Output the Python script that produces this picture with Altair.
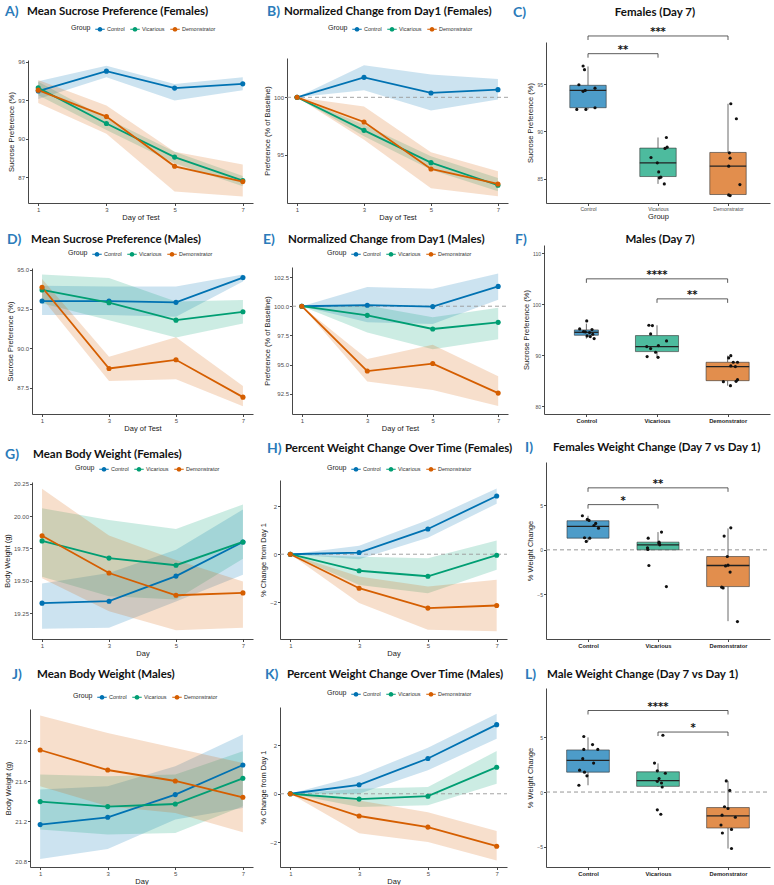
import altair as alt
import pandas as pd

GROUPS = ["Control", "Vicarious", "Demonstrator"]
LINE_COLORS = ["#0072B2", "#009E73", "#D55E00"]
BOX_COLORS = ["#4D9CC9", "#4DBB9E", "#E28E4D"]
DAYS = [1, 3, 5, 7]

# ---------------- A: Mean sucrose preference (females) ----------------
A_ctrl = [93.73, 95.28, 93.96, 94.29]
A_ctrl_lo = [93.10, 94.80, 93.00, 93.80]
A_ctrl_hi = [94.50, 95.70, 94.27, 94.80]
A_vic = [93.98, 91.20, 88.58, 86.75]
A_vic_lo = [93.40, 90.70, 88.10, 86.30]
A_vic_hi = [94.45, 91.60, 89.00, 87.10]
A_dem = [93.80, 91.74, 87.86, 86.67]
A_dem_lo = [92.80, 90.40, 85.90, 85.50]
A_dem_hi = [94.60, 92.60, 89.00, 88.00]

# ---------------- B: Normalized change (females) ----------------
B_ctrl = [100.0, 101.74, 100.38, 100.67]
B_ctrl_lo = [100.0, 100.61, 98.84, 99.80]
B_ctrl_hi = [100.0, 102.79, 101.98, 101.60]
B_vic = [100.0, 97.12, 94.30, 92.33]
B_vic_lo = [100.0, 96.60, 93.69, 91.80]
B_vic_hi = [100.0, 97.60, 94.85, 92.97]
B_dem = [100.0, 97.85, 93.75, 92.44]
B_dem_lo = [100.0, 96.30, 92.06, 91.37]
B_dem_hi = [100.0, 99.20, 95.20, 93.55]

# ---------------- C: Females day 7 box ----------------
C_q1 = [92.52, 85.21, 83.30]
C_med = [94.36, 86.67, 86.31]
C_q3 = [94.90, 88.23, 87.77]
C_lo = [92.34, 84.43, 83.19]
C_hi = [96.90, 89.36, 92.94]
C_w = [0.52, 0.52, 0.52]
C_pts = [
    [96.95, 96.56, 94.96, 94.26, 94.36, 94.60, 92.34, 92.34, 92.52],
    [89.36, 88.33, 88.20, 87.23, 86.67, 85.70, 85.14, 85.07, 84.43],
    [92.94, 91.35, 87.73, 87.16, 86.31, 84.36, 83.26, 83.19],
]
C_jit = [
    [-0.07, -0.05, -0.13, -0.07, -0.04, 0.10, -0.16, -0.03, 0.10],
    [0.12, 0.13, 0.10, -0.10, -0.01, 0.01, 0.04, 0.02, 0.09],
    [0.04, 0.12, 0.02, 0.03, 0.01, 0.17, 0.01, 0.03],
]
C_br = [(1, 2, 98.26, "**"), (1, 3, 100.14, "***")]

# ---------------- D: Mean sucrose preference (males) ----------------
D_ctrl = [93.00, 93.00, 92.92, 94.49]
D_ctrl_lo = [92.11, 92.11, 92.00, 94.25]
D_ctrl_hi = [93.97, 93.93, 93.93, 94.68]
D_vic = [93.71, 92.90, 91.79, 92.32]
D_vic_lo = [92.86, 91.79, 90.68, 91.57]
D_vic_hi = [94.68, 94.46, 92.97, 93.07]
D_dem = [93.88, 88.72, 89.27, 86.90]
D_dem_lo = [93.18, 87.93, 88.03, 86.32]
D_dem_hi = [94.40, 89.47, 90.70, 87.60]

# ---------------- E: Normalized change (males) ----------------
E_ctrl = [100.0, 100.09, 99.97, 101.70]
E_ctrl_lo = [100.0, 98.62, 98.48, 100.55]
E_ctrl_hi = [100.0, 101.64, 101.49, 102.80]
E_vic = [100.0, 99.22, 98.05, 98.62]
E_vic_lo = [100.0, 97.76, 96.32, 97.18]
E_vic_hi = [100.0, 100.06, 99.05, 99.86]
E_dem = [100.0, 94.45, 95.09, 92.56]
E_dem_lo = [100.0, 93.56, 92.82, 91.45]
E_dem_hi = [100.0, 95.49, 96.70, 94.00]

# ---------------- F: Males day 7 box ----------------
F_q1 = [93.92, 90.72, 85.03]
F_med = [94.50, 91.70, 87.78]
F_q3 = [94.97, 93.86, 88.63]
F_lo = [93.27, 89.60, 84.05]
F_hi = [96.20, 95.88, 89.93]
F_w = [0.34, 0.61, 0.61]
F_pts = [
    [96.73, 95.16, 95.03, 94.64, 94.58, 94.44, 94.12, 93.66, 93.27, 93.79],
    [95.88, 95.82, 94.18, 92.81, 91.70, 91.31, 91.90, 90.59, 89.74, 89.60],
    [89.93, 89.48, 88.63, 88.63, 87.91, 87.78, 84.84, 85.23, 84.90, 84.05],
]
F_jit = [
    [0.005, -0.095, 0.08, -0.04, -0.015, 0.045, 0.09, 0.055, 0.11, 0.01],
    [-0.115, -0.065, -0.09, 0.135, -0.145, -0.09, 0.02, -0.02, -0.14, 0.015],
    [0.045, 0.015, 0.08, 0.14, 0.045, 0.11, -0.06, 0.14, 0.12, 0.04],
]
F_br = [(1, 3, 104.97, "****"), (2, 3, 101.05, "**")]

# ---------------- G: Mean body weight (females) ----------------
G_ctrl = [19.327, 19.342, 19.536, 19.800]
G_ctrl_lo = [19.130, 19.137, 19.340, 19.547]
G_ctrl_hi = [19.478, 19.560, 19.740, 20.050]
G_vic = [19.808, 19.675, 19.620, 19.800]
G_vic_lo = [19.530, 19.380, 19.355, 19.670]
G_vic_hi = [20.060, 19.970, 19.900, 20.090]
G_dem = [19.848, 19.560, 19.388, 19.406]
G_dem_lo = [19.520, 19.265, 19.117, 19.137]
G_dem_hi = [20.210, 19.850, 19.660, 19.495]

# ---------------- H: Percent weight change (females) ----------------
H_ctrl = [0.0, 0.07, 1.056, 2.43]
H_ctrl_lo = [0.0, -0.21, 0.69, 2.11]
H_ctrl_hi = [0.0, 0.35, 1.43, 2.74]
H_vic = [0.0, -0.69, -0.92, -0.04]
H_vic_lo = [0.0, -1.28, -1.63, -0.65]
H_vic_hi = [0.0, -0.10, -0.17, 0.57]
H_dem = [0.0, -1.42, -2.25, -2.14]
H_dem_lo = [0.0, -2.04, -3.15, -3.22]
H_dem_hi = [0.0, -0.93, -1.35, -1.07]

# ---------------- I: Females weight change box ----------------
I_q1 = [1.31, 0.00, -4.12]
I_med = [2.62, 0.56, -1.76]
I_q3 = [3.26, 0.86, -0.75]
I_lo = [0.94, 0.00, -8.00]
I_hi = [3.82, 1.99, 2.40]
I_w = [0.60, 0.60, 0.61]
I_pts = [
    [3.82, 3.41, 3.30, 2.96, 2.73, 2.43, 1.35, 1.31, 0.94],
    [1.99, 1.31, 0.86, 0.56, 0.75, 0.22, 0.04, -1.76, -4.12],
    [2.47, 1.54, -0.75, -1.72, -1.80, -2.50, -4.19, -4.27, -8.05],
]
I_jit = [
    [-0.08, -0.01, 0.015, 0.11, 0.085, 0.15, -0.05, 0.025, -0.025],
    [0.05, -0.14, 0.015, 0.025, 0.015, -0.15, -0.145, -0.13, 0.12],
    [0.04, -0.055, -0.01, 0.0, -0.035, 0.03, -0.09, -0.07, 0.135],
]
I_br = [(1, 2, 5.07, "*"), (1, 3, 6.95, "**")]

# ---------------- J: Mean body weight (males) ----------------
J_ctrl = [21.167, 21.240, 21.467, 21.763]
J_ctrl_lo = [20.823, 20.923, 21.217, 21.333]
J_ctrl_hi = [21.517, 21.550, 21.750, 22.067]
J_vic = [21.397, 21.347, 21.373, 21.630]
J_vic_lo = [21.117, 21.067, 21.083, 21.350]
J_vic_hi = [21.667, 21.650, 21.667, 21.900]
J_dem = [21.913, 21.713, 21.603, 21.440]
J_dem_lo = [21.550, 21.350, 21.283, 21.090]
J_dem_hi = [22.257, 22.083, 21.933, 21.783]

# ---------------- K: Percent weight change (males) ----------------
K_ctrl = [0.0, 0.37, 1.46, 2.86]
K_ctrl_lo = [0.0, 0.00, 0.97, 2.28]
K_ctrl_hi = [0.0, 0.76, 1.90, 3.31]
K_vic = [0.0, -0.22, -0.10, 1.10]
K_vic_lo = [0.0, -0.55, -0.48, 0.41]
K_vic_hi = [0.0, 0.21, 0.28, 1.77]
K_dem = [0.0, -0.92, -1.38, -2.17]
K_dem_lo = [0.0, -1.63, -2.00, -2.76]
K_dem_hi = [0.0, -0.28, -0.76, -1.54]

# ---------------- L: Male weight change box ----------------
L_q1 = [1.82, 0.52, -3.29]
L_med = [2.89, 1.05, -2.18]
L_q3 = [3.85, 1.85, -1.42]
L_lo = [0.62, 0.46, -5.17]
L_hi = [5.00, 2.62, 1.02]
L_w = [0.61, 0.61, 0.61]
L_pts = [
    [5.08, 4.34, 3.90, 3.90, 3.05, 2.65, 2.00, 1.82, 1.48, 0.62],
    [5.20, 2.65, 1.94, 1.72, 1.23, 0.98, 0.83, 0.46, -1.63, -2.03],
    [1.02, 0.15, -1.35, -1.51, -2.12, -2.31, -3.02, -3.42, -3.75, -5.17],
]
L_jit = [
    [-0.06, 0.065, -0.06, 0.14, -0.075, 0.08, -0.12, -0.05, -0.015, -0.13],
    [0.07, -0.05, -0.01, 0.105, 0.015, -0.01, 0.05, 0.06, -0.01, 0.04],
    [-0.025, 0.025, -0.05, 0.0, -0.085, 0.105, -0.10, 0.05, -0.08, 0.05],
]
L_br = [(1, 3, 7.46, "****"), (2, 3, 5.49, "*")]

# ---------------- layout (pixels) ----------------
ROW_H = [161, 211, 225, 228]
COL_W = [225, 255, 262]
GEOM = {
    "A": dict(r=0, c=0, xr=(0, 225), yt=18, lt=(-23, -30), mt=(-1, -30, "left"), lg=(43, -18)),
    "B": dict(r=0, c=1, xr=(34, 255), yt=16, lt=(14, -30), mt=(31, -30, "left"), lg=(75, -18)),
    "C": dict(r=0, c=2, xr=(38, 262), yt=0, lt=(5, -29), mt=(147, -29, "center")),
    "D": dict(r=1, c=0, xr=(4, 225), yt=65, lt=(-21, 37), mt=(3, 37, "left"), lg=(40, 46)),
    "E": dict(r=1, c=1, xr=(39, 255), yt=64, lt=(10, 37), mt=(35, 37, "left"), lg=(74, 46)),
    "F": dict(r=1, c=2, xr=(36, 262), yt=42, lt=(7, 37), mt=(152, 37, "center")),
    "G": dict(r=2, c=0, xr=(4, 225), yt=68, lt=(-23, 41), mt=(5, 41, "left"), lg=(47, 50)),
    "H": dict(r=2, c=1, xr=(27, 254), yt=66, lt=(14, 35), mt=(32, 35, "left"), lg=(74, 50)),
    "I": dict(r=2, c=2, xr=(38, 262), yt=48, lt=(17, 34), mt=(45, 34, "left")),
    "J": dict(r=3, c=0, xr=(2, 225), yt=70, lt=(-16, 36), mt=(9, 36, "left"), lg=(45, 53)),
    "K": dict(r=3, c=1, xr=(27, 254), yt=68, lt=(12, 36), mt=(34, 36, "left"), lg=(74, 50)),
    "L": dict(r=3, c=2, xr=(38, 262), yt=49, lt=(17, 36), mt=(39, 36, "left")),
}

TITLE_FONT = "Lato"
AXIS_FONT = "Liberation Sans"
BLUE = "#2B7BBA"
KEY_PATH = ("M-1,-0.13L1,-0.13L1,0.13L-1,0.13Z "
            "M0.5,0A0.5,0.5 0 1,1 -0.5,0A0.5,0.5 0 1,1 0.5,0Z")


def ax(**kw):
    d = dict(grid=False, domainColor="#333333", domainWidth=0.9, tickColor="#333333",
             tickSize=2.5, tickWidth=0.9, labelColor="#4D4D4D", labelFont=AXIS_FONT,
             labelFontSize=6, labelPadding=1, titleFont=AXIS_FONT, titleFontSize=7.5,
             titleFontWeight="normal", titleColor="#1a1a1a", titlePadding=0.5)
    d.update(kw)
    return alt.Axis(**d)


def title_layers(g, letter, text):
    one = alt.Data(values=[{"k": 0}])
    lx, ly = g["lt"]
    mx, my, mal = g["mt"]
    t1 = alt.Chart(one).mark_text(text=letter, font=TITLE_FONT, fontSize=14, fontWeight="bold",
                                  color=BLUE, align="left", baseline="middle").encode(
        x=alt.value(lx), y=alt.value(ly))
    t2 = alt.Chart(one).mark_text(text=text, font=TITLE_FONT, fontSize=11.5, fontWeight="bold",
                                  color="#111111", align=mal, baseline="middle").encode(
        x=alt.value(mx), y=alt.value(my))
    return [t1, t2]


def line_panel(key, letter, title, series, ytitle, xtitle, yticks, yfmt, ydom, ref=None, anchor=False):
    g = GEOM[key]
    W, H = COL_W[g["c"]], ROW_H[g["r"]]
    xl, xr = g["xr"]
    rows = []
    for name, (m, lo, hi) in zip(GROUPS, series):
        for d, a, b, c in zip(DAYS, m, lo, hi):
            rows.append({"day": d, "group": name, "mean": a, "lo": b, "hi": c})
    df = pd.DataFrame(rows)
    xs = alt.Scale(domain=[0.7, 7.3], range=[xl, xr], nice=False, zero=False)
    ys = alt.Scale(domain=ydom, range=[H, g["yt"]], nice=False, zero=False)
    xa = ax(values=DAYS, title=xtitle)
    ya = ax(values=yticks, format=yfmt, title=ytitle, offset=-xl, titlePadding=2)
    cs = alt.Scale(domain=GROUPS, range=LINE_COLORS)
    # ribbon fill scale: same colours, listed in reverse so it stays a separate (hidden) legend
    fsc = alt.Scale(domain=GROUPS[::-1], range=LINE_COLORS[::-1])
    X = alt.X("day:Q", scale=xs, axis=xa)
    lx, ly = g["lg"]
    leg = alt.Legend(orient="none", legendX=lx, legendY=ly, direction="horizontal", title="Group",
                     titleOrient="left", titleAnchor="middle", titleBaseline="middle",
                     symbolType=KEY_PATH, symbolSize=90, symbolStrokeWidth=0,
                     symbolOpacity=1,
                     labelFont=AXIS_FONT, labelFontSize=5.5, labelColor="#333333",
                     titleFont=AXIS_FONT, titleFontSize=7, titleFontWeight="normal",
                     titleColor="#222222", columnPadding=5, labelOffset=2, padding=0,
                     titlePadding=4)
    base = alt.Chart(df)
    layers = []
    layers.append(base.mark_area(opacity=0.2).encode(
        x=X, y=alt.Y("lo:Q", scale=ys, axis=ya), y2="hi:Q",
        fill=alt.Fill("group:N", scale=fsc, legend=None)))
    if ref is not None:
        rd = alt.Data(values=[{"x1": 0.7, "x2": 7.3, "y": ref}])
        layers.append(alt.Chart(rd).mark_rule(color="#9a9a9a", strokeDash=[4, 3], strokeWidth=0.9).encode(
            x=alt.X("x1:Q", scale=xs, axis=xa), x2="x2:Q", y=alt.Y("y:Q", scale=ys, axis=ya)))
    layers.append(base.mark_line(strokeWidth=1.8).encode(
        x=X, y=alt.Y("mean:Q", scale=ys, axis=ya),
        color=alt.Color("group:N", scale=cs, legend=leg)))
    layers.append(base.mark_circle(size=26, opacity=1).encode(
        x=X, y=alt.Y("mean:Q", scale=ys, axis=ya),
        color=alt.Color("group:N", scale=cs, legend=leg)))
    layers += title_layers(g, letter, title)
    if anchor:
        layers.append(alt.Chart(alt.Data(values=[{"k": 0}])).mark_rule(opacity=0).encode(
            x=alt.value(-28), x2=alt.value(-27), y=alt.value(-42), y2=alt.value(-42)))
    return alt.layer(*layers).properties(width=W, height=H)


def box_panel(key, letter, title, q1, med, q3, lo, hi, widths, pts, jit, brackets,
              ytitle, yticks, ydom, xtitle=None, bold=True, zero_line=False):
    g = GEOM[key]
    W, H = COL_W[g["c"]], ROW_H[g["r"]]
    xl, xr = g["xr"]
    cats = [1, 2, 3]
    bdf = pd.DataFrame({"cat": cats, "group": GROUPS, "q1": q1, "med": med, "q3": q3,
                        "lo": lo, "hi": hi, "w": widths})
    bdf["left"] = bdf["cat"] - bdf["w"] / 2
    bdf["right"] = bdf["cat"] + bdf["w"] / 2
    prow = []
    for c, vals, js in zip(cats, pts, jit):
        for v, j in zip(vals, js):
            prow.append({"xj": c + j, "v": v})
    pdf = pd.DataFrame(prow)
    brow = [{"x1": a, "x2": b, "xm": (a + b) / 2, "y": y, "lab": s} for a, b, y, s in brackets]
    brdf = pd.DataFrame(brow)

    xs = alt.Scale(domain=[0.4, 3.6], range=[xl, xr], nice=False, zero=False)
    ys = alt.Scale(domain=ydom, range=[H, g["yt"]], nice=False, zero=False)
    label_expr = "[" + ",".join("'%s'" % s for s in GROUPS) + "][datum.value - 1]"
    if bold:
        xa = ax(values=cats, labelExpr=label_expr, title=xtitle, labelFontWeight="bold",
                labelColor="#222222", labelFontSize=5.8)
    else:
        xa = ax(values=cats, labelExpr=label_expr, title=xtitle, labelFontSize=5)
    ya = ax(values=yticks, title=ytitle, offset=-xl, labelFontSize=5, titlePadding=2)
    fs = alt.Scale(domain=GROUPS, range=BOX_COLORS)

    bb = alt.Chart(bdf)
    layers = []
    if zero_line:
        zd = alt.Data(values=[{"x1": 0.4, "x2": 3.6, "y": 0}])
        layers.append(alt.Chart(zd).mark_rule(color="#8a8a8a", strokeDash=[4, 3], strokeWidth=0.9).encode(
            x=alt.X("x1:Q", scale=xs, axis=xa), x2="x2:Q", y=alt.Y("y:Q", scale=ys, axis=ya)))
    layers.append(bb.mark_rule(color="#444444", strokeWidth=0.8).encode(
        x=alt.X("cat:Q", scale=xs, axis=xa), y=alt.Y("q3:Q", scale=ys, axis=ya), y2="hi:Q"))
    layers.append(bb.mark_rule(color="#444444", strokeWidth=0.8).encode(
        x=alt.X("cat:Q", scale=xs, axis=xa), y=alt.Y("lo:Q", scale=ys, axis=ya), y2="q1:Q"))
    layers.append(bb.mark_rect(stroke="#333333", strokeWidth=0.6, opacity=1).encode(
        x=alt.X("left:Q", scale=xs, axis=xa), x2="right:Q",
        y=alt.Y("q1:Q", scale=ys, axis=ya), y2="q3:Q",
        fill=alt.Fill("group:N", scale=fs, legend=None)))
    layers.append(bb.mark_rule(color="#222222", strokeWidth=1.3).encode(
        x=alt.X("left:Q", scale=xs, axis=xa), x2="right:Q", y=alt.Y("med:Q", scale=ys, axis=ya)))
    layers.append(alt.Chart(pdf).mark_circle(size=10, color="#111111", opacity=1).encode(
        x=alt.X("xj:Q", scale=xs, axis=xa), y=alt.Y("v:Q", scale=ys, axis=ya)))
    br = alt.Chart(brdf)
    layers.append(br.mark_rule(color="#333333", strokeWidth=0.8).encode(
        x=alt.X("x1:Q", scale=xs, axis=xa), x2="x2:Q", y=alt.Y("y:Q", scale=ys, axis=ya)))
    layers.append(br.mark_rule(color="#333333", strokeWidth=0.8, y2Offset=4).encode(
        x=alt.X("x1:Q", scale=xs, axis=xa), y=alt.Y("y:Q", scale=ys, axis=ya), y2="y:Q"))
    layers.append(br.mark_rule(color="#333333", strokeWidth=0.8, y2Offset=4).encode(
        x=alt.X("x2:Q", scale=xs, axis=xa), y=alt.Y("y:Q", scale=ys, axis=ya), y2="y:Q"))
    layers.append(br.mark_text(font="DejaVu Sans", fontSize=10, fontWeight="bold", color="#111111",
                               baseline="alphabetic", dy=-1).encode(
        x=alt.X("xm:Q", scale=xs, axis=xa), y=alt.Y("y:Q", scale=ys, axis=ya), text="lab:N"))
    layers += title_layers(g, letter, title)
    return alt.layer(*layers).properties(width=W, height=H)


pA = line_panel("A", "A)", "Mean Sucrose Preference (Females)",
                [(A_ctrl, A_ctrl_lo, A_ctrl_hi), (A_vic, A_vic_lo, A_vic_hi), (A_dem, A_dem_lo, A_dem_hi)],
                "Sucrose Preference (%)", "Day of Test", [87, 90, 93, 96], "d", [85.0, 96.15], anchor=True)
pB = line_panel("B", "B)", "Normalized Change from Day1 (Females)",
                [(B_ctrl, B_ctrl_lo, B_ctrl_hi), (B_vic, B_vic_lo, B_vic_hi), (B_dem, B_dem_lo, B_dem_hi)],
                "Preference (% of Baseline)", "Day of Test", [95, 100], "d", [90.78, 103.43], ref=100)
pC = box_panel("C", "C)", "Females (Day 7)", C_q1, C_med, C_q3, C_lo, C_hi, C_w, C_pts, C_jit, C_br,
               "Sucrose Preference (%)", [85, 90, 95], [82.4, 99.5], xtitle="Group", bold=False)
pD = line_panel("D", "D)", "Mean Sucrose Preference (Males)",
                [(D_ctrl, D_ctrl_lo, D_ctrl_hi), (D_vic, D_vic_lo, D_vic_hi), (D_dem, D_dem_lo, D_dem_hi)],
                "Sucrose Preference (%)", "Day of Test", [87.5, 90.0, 92.5, 95.0], ".1f", [85.83, 95.1])
pE = line_panel("E", "E)", "Normalized Change from Day1 (Males)",
                [(E_ctrl, E_ctrl_lo, E_ctrl_hi), (E_vic, E_vic_lo, E_vic_hi), (E_dem, E_dem_lo, E_dem_hi)],
                "Preference (% of Baseline)", "Day of Test", [92.5, 95.0, 97.5, 100.0, 102.5], ".1f",
                [90.77, 103.36], ref=100)
pF = box_panel("F", "F)", "Males (Day 7)", F_q1, F_med, F_q3, F_lo, F_hi, F_w, F_pts, F_jit, F_br,
               "Sucrose Preference (%)", [80, 90, 100, 110], [78.5, 111.6])
pG = line_panel("G", "G)", "Mean Body Weight (Females)",
                [(G_ctrl, G_ctrl_lo, G_ctrl_hi), (G_vic, G_vic_lo, G_vic_hi), (G_dem, G_dem_lo, G_dem_hi)],
                "Body Weight (g)", "Day", [19.25, 19.50, 19.75, 20.00, 20.25], ".2f", [19.05, 20.263])
pH = line_panel("H", "H)", "Percent Weight Change Over Time (Females)",
                [(H_ctrl, H_ctrl_lo, H_ctrl_hi), (H_vic, H_vic_lo, H_vic_hi), (H_dem, H_dem_lo, H_dem_hi)],
                "% Change from Day 1", "Day", [-2, 0, 2], "d", [-3.54, 3.10], ref=0)
pI = box_panel("I", "I)", "Females Weight Change (Day 7 vs Day 1)", I_q1, I_med, I_q3, I_lo, I_hi, I_w,
               I_pts, I_jit, I_br, "% Weight Change", [-5, 0, 5], [-10.0, 9.85], zero_line=True)
pJ = line_panel("J", "J)", "Mean Body Weight (Males)",
                [(J_ctrl, J_ctrl_lo, J_ctrl_hi), (J_vic, J_vic_lo, J_vic_hi), (J_dem, J_dem_lo, J_dem_hi)],
                "Body Weight (g)", "Day", [20.8, 21.2, 21.6, 22.0], ".1f", [20.743, 22.323])
pK = line_panel("K", "K)", "Percent Weight Change Over Time (Males)",
                [(K_ctrl, K_ctrl_lo, K_ctrl_hi), (K_vic, K_vic_lo, K_vic_hi), (K_dem, K_dem_lo, K_dem_hi)],
                "% Change from Day 1", "Day", [-2, 0, 2], "d", [-3.03, 3.59], ref=0)
pL = box_panel("L", "L)", "Male Weight Change (Day 7 vs Day 1)", L_q1, L_med, L_q3, L_lo, L_hi, L_w,
               L_pts, L_jit, L_br, "% Weight Change", [-5, 0, 5], [-6.86, 9.52], zero_line=True)

chart = alt.concat(pA, pB, pC, pD, pE, pF, pG, pH, pI, pJ, pK, pL,
                   columns=3, spacing=0, bounds="flush", align="each").resolve_scale(
    color="independent", fill="independent", x="independent", y="independent").resolve_legend(
    color="independent", fill="independent").properties(padding=0, background="white").configure_view(
    stroke=None)

chart.save("out.html", embed_options={"renderer": "svg", "actions": False})
